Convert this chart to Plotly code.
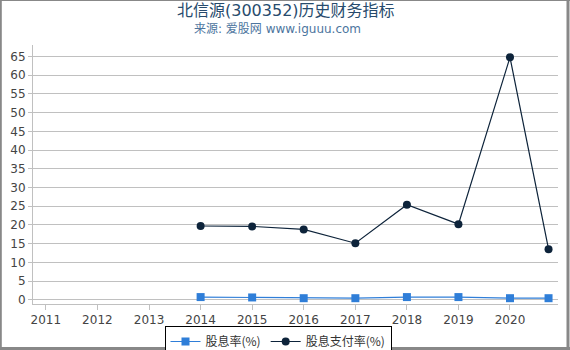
import plotly.graph_objects as go

dates = ["2014-01-01", "2015-01-01", "2016-01-01", "2017-01-01",
         "2018-01-01", "2019-01-01", "2020-01-01", "2020-09-30"]
dividend_yield = [0.7, 0.6, 0.4, 0.4, 0.7, 0.7, 0.4, 0.4]
payout_ratio = [19.7, 19.6, 18.8, 15.1, 25.4, 20.2, 64.8, 13.5]
tick_years = [str(y) for y in range(2011, 2021)]
tick_vals = [f"{y}-01-01" for y in tick_years]

W, H = 570, 350
L, R, T, B = 33, 12, 45, 46
pw, ph = W - L - R, H - T - B

fig = go.Figure()
fig.add_trace(go.Scatter(
    x=dates, y=dividend_yield, name="股息率(%)", mode="lines+markers",
    line=dict(color="#2f7ed8", width=1.2),
    marker=dict(symbol="square", size=8, color="#2f7ed8")))
fig.add_trace(go.Scatter(
    x=dates, y=payout_ratio, name="股息支付率(%)", mode="lines+markers",
    line=dict(color="#0d233a", width=1.2),
    marker=dict(symbol="circle", size=8, color="#0d233a")))

def px_x(p):
    return (p - L) / pw

def px_y(p):
    return (H - B - p) / ph

shapes = [
    dict(type="line", xref="paper", yref="paper", x0=px_x(0), x1=px_x(570), y0=px_y(0.5), y1=px_y(0.5),
         line=dict(color="#888888", width=1)),
    dict(type="line", xref="paper", yref="paper", x0=px_x(0.8), x1=px_x(0.8), y0=px_y(0), y1=px_y(350),
         line=dict(color="#888888", width=2)),
    dict(type="line", xref="paper", yref="paper", x0=px_x(568), x1=px_x(568), y0=px_y(0), y1=px_y(350),
         line=dict(color="#888888", width=3)),
    dict(type="line", xref="paper", yref="paper", x0=px_x(0), x1=px_x(570), y0=px_y(348.5), y1=px_y(348.5),
         line=dict(color="#888888", width=3)),
]

annotations = [
    dict(text="北信源(300352)历史财务指标", xref="paper", yref="paper",
         x=px_x(286), y=px_y(10), xanchor="center", yanchor="middle", showarrow=False,
         font=dict(family="DejaVu Sans, Noto Sans CJK SC", size=16, color="#274b6d")),
    dict(text="来源: 爱股网 www.iguuu.com", xref="paper", yref="paper",
         x=px_x(277), y=px_y(29), xanchor="center", yanchor="middle", showarrow=False,
         font=dict(family="DejaVu Sans, Noto Sans CJK SC", size=12, color="#4d759e")),
]

fig.update_layout(
    width=W, height=H,
    margin=dict(l=L, r=R, t=T, b=B, autoexpand=False),
    paper_bgcolor="white", plot_bgcolor="white",
    font=dict(family="DejaVu Sans, Noto Sans CJK SC", size=12, color="#444444"),
    xaxis=dict(
        type="date",
        range=["2010-10-02", "2020-12-06"],
        tickvals=tick_vals, ticktext=tick_years,
        showgrid=False, showline=True, linecolor="#c0c0c0", linewidth=1,
        ticks="outside", ticklen=5, tickcolor="#c0c0c0",
        tickfont=dict(size=12, color="#444444"), zeroline=False, automargin=False),
    yaxis=dict(
        range=[-1.15, 68.1], tickvals=list(range(0, 70, 5)),
        showgrid=True, gridcolor="#c0c0c0", gridwidth=1,
        showline=True, linecolor="#c0c0c0", linewidth=1,
        ticks="outside", ticklen=4, tickcolor="#c0c0c0",
        tickfont=dict(size=12, color="#444444"), zeroline=False, automargin=False),
    legend=dict(
        orientation="h", x=px_x(278), xanchor="center", y=px_y(326), yanchor="top",
        bordercolor="black", borderwidth=1, bgcolor="white",
        font=dict(family="Noto Sans CJK SC, DejaVu Sans", size=12, color="#333333"),
        itemwidth=30, tracegroupgap=0),
    shapes=shapes,
    annotations=annotations,
    showlegend=True,
)

fig.write_html("out.html")
